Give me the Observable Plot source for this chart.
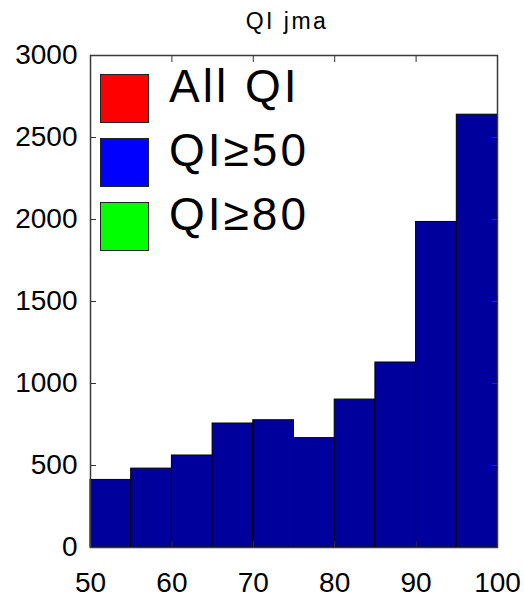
<!DOCTYPE html>
<html>
<head>
<meta charset="utf-8">
<script src="https://cdn.jsdelivr.net/npm/d3@7"></script>
<script src="https://cdn.jsdelivr.net/npm/@observablehq/plot@0.6"></script>
<style>
  html, body { margin: 0; padding: 0; background: #fff; }
  #wrap { position: relative; width: 524px; height: 602px; font-family: "Liberation Sans", Arial, Helvetica, sans-serif; }
  #title { position: relative; height: 40px; }
  #title span { position: absolute; left: 90px; width: 394px; top: 8px; text-align: center; font-size: 23px; letter-spacing: 2.5px; color: #000; }
  #legend { position: absolute; left: 100px; top: 74px; }
  .row { position: relative; height: 64px; width: 260px; }
  .swatch { position: absolute; left: 0; top: 0; width: 49px; height: 49px; box-sizing: border-box; border: 1.5px solid #222; }
  .label { position: absolute; left: 69px; top: -11px; font-size: 46px; line-height: 46px; letter-spacing: 3px; color: #000; white-space: nowrap; }
  svg { display: block; }
</style>
</head>
<body>
<div id="wrap">
  <div id="title"><span>QI jma</span></div>
  <div id="chart"></div>
  <div id="legend"></div>
</div>
<script>
// Histogram of QI values, bins of width 5
const binLo = [50, 55, 60, 65, 70, 75, 80, 85, 90, 95];
const binHi = [55, 60, 65, 70, 75, 80, 85, 90, 95, 100];
const counts = [412, 481, 561, 756, 776, 667, 902, 1128, 1985, 2639];

// Legend entries
const legendLabels = ["All QI", "QI≥50", "QI≥80"];
const legendColors = ["#ff0000", "#0000ff", "#00ff00"];

// Axis ticks
const xTicks = [50, 60, 70, 80, 90, 100];
const yTicks = [0, 500, 1000, 1500, 2000, 2500, 3000];

const bins = binLo.map((lo, i) => ({lo, hi: binHi[i], count: counts[i]}));

const font = {fontSize: 28, fill: "#000", tickFormat: d3.format("d")};
const tick = 6;
const tickOnly = {tickSize: tick, text: null, label: null, stroke: "#333"};

const chart = Plot.plot({
  width: 524,
  height: 562,
  marginTop: 15,
  marginBottom: 55,
  marginLeft: 90,
  marginRight: 27,
  style: {fontFamily: "'Liberation Sans', Arial, Helvetica, sans-serif", background: "#fff", color: "#000"},
  x: {domain: [50, 100]},
  y: {domain: [0, 3000]},
  marks: [
    Plot.rectY(bins, {x1: "lo", x2: "hi", y: "count", fill: "#00009c", stroke: "#000", strokeWidth: 1}),
    // tick labels
    Plot.axisX(xTicks, {anchor: "bottom", tickSize: 0, tickPadding: 25, label: null, ...font}),
    Plot.axisY(yTicks, {anchor: "left", tickSize: 0, tickPadding: 13, label: null, ...font}),
    // inward tick marks on all four sides
    Plot.axisX(xTicks, {anchor: "bottom", dy: -tick, ...tickOnly}),
    Plot.axisX(xTicks, {anchor: "top", dy: tick, ...tickOnly}),
    Plot.axisY(yTicks, {anchor: "left", dx: tick, ...tickOnly}),
    Plot.axisY(yTicks, {anchor: "right", dx: -tick, ...tickOnly}),
    Plot.frame({stroke: "#3a3a3a", strokeWidth: 1.5})
  ]
});
document.getElementById("chart").appendChild(chart);

// Legend over the upper-left of the plot area
const legend = d3.select("#legend");
legendLabels.forEach((name, i) => {
  const row = legend.append("div").attr("class", "row");
  row.append("div").attr("class", "swatch").style("background", legendColors[i]);
  row.append("div").attr("class", "label").text(name);
});
</script>
</body>
</html>
